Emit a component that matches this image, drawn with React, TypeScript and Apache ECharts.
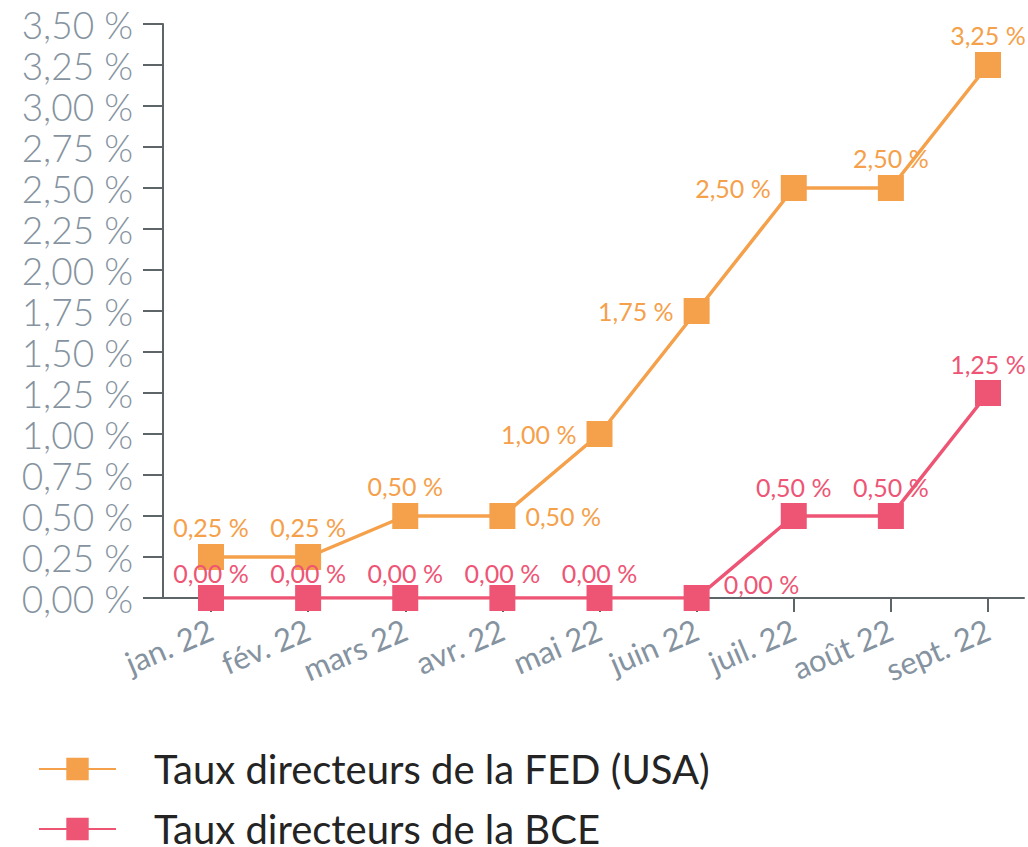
import React, { useEffect, useRef } from "react";
import * as echarts from "echarts";

const categories = ["jan. 22", "fév. 22", "mars 22", "avr. 22", "mai 22", "juin 22", "juil. 22", "août 22", "sept. 22"];
const fedValues = [0.25, 0.25, 0.5, 0.5, 1.0, 1.75, 2.5, 2.5, 3.25];
const bceValues = [0, 0, 0, 0, 0, 0, 0.5, 0.5, 1.25];
const fedLabelPos = ["top", "top", "top", "right", "left", "left", "left", "top", "top"];
const bceLabelPos = ["top", "top", "top", "top", "top", "right", "top", "top", "top"];
const seriesNames = ["Taux directeurs de la FED (USA)", "Taux directeurs de la BCE"];

const ORANGE = "#F5A04A";
const PINK = "#EE5575";
const GRAY = "#8593a0";
const AXIS = "#5d6568";
const FONT = "Lato, 'Noto Sans', sans-serif";

const fmt = (v: number) => v.toFixed(2).replace(".", ",") + " %";

export default function App() {
  const ref = useRef<HTMLDivElement>(null);
  useEffect(() => {
    document.body.style.margin = "0";
    const chart = echarts.init(ref.current!, null, { renderer: "svg" });
    const fedData = fedValues.map((v, i) => ({
      value: v,
      label: {
        position: fedLabelPos[i],
        distance: fedLabelPos[i] === "top" ? 5 : 10,
      },
    }));
    const bceData = bceValues.map((v, i) => ({
      value: v,
      label: {
        position: bceLabelPos[i],
        distance: i < 5 ? 0 : bceLabelPos[i] === "right" ? 14 : 4,
        offset: bceLabelPos[i] === "right" ? [0, -14] : [0, 0],
      },
    }));
    const legendBase = {
      orient: "vertical",
      left: 38,
      padding: 0,
      itemWidth: 77,
      itemHeight: 28,
      textStyle: { fontSize: 40, color: "#242424", fontFamily: FONT, padding: [0, 0, 0, 33] },
    };
    chart.setOption({
      animation: false,
      textStyle: { fontFamily: FONT },
      grid: [
        { left: 211, top: 24, right: 40, height: 574 },
        { left: 163, top: 24, right: 4, height: 574 },
      ],
      xAxis: [
        {
          type: "category",
          gridIndex: 0,
          data: categories,
          boundaryGap: false,
          axisLine: { show: false },
          axisTick: { show: true, length: 14, lineStyle: { color: AXIS, width: 2 } },
          axisLabel: { rotate: 23, margin: 30, fontSize: 31, color: GRAY, fontFamily: FONT, interval: 0 },
          z: 1,
        },
        {
          type: "value",
          gridIndex: 1,
          min: 0,
          max: 1,
          axisLine: { show: true, lineStyle: { color: AXIS, width: 2 } },
          axisTick: { show: false },
          axisLabel: { show: false },
          splitLine: { show: false },
        },
      ],
      yAxis: [
        {
          type: "value",
          gridIndex: 0,
          offset: 48,
          min: 0,
          max: 3.5,
          interval: 0.25,
          axisLine: { show: true, lineStyle: { color: AXIS, width: 2 } },
          axisTick: { show: true, length: 20, lineStyle: { color: AXIS, width: 2 } },
          splitLine: { show: false },
          axisLabel: { formatter: fmt, fontSize: 37, lineHeight: 38, color: GRAY, margin: 30, fontFamily: FONT, fontWeight: 300 },
        },
        {
          type: "value",
          gridIndex: 1,
          min: 0,
          max: 1,
          show: false,
        },
      ],
      legend: [
        { ...legendBase, top: 749, data: [seriesNames[0]] },
        { ...legendBase, top: 809, data: [seriesNames[1]] },
      ],
      series: [
        {
          name: seriesNames[0],
          type: "line",
          xAxisIndex: 0,
          yAxisIndex: 0,
          data: fedData,
          symbol: "rect",
          symbolSize: 26,
          itemStyle: { color: ORANGE },
          lineStyle: { color: ORANGE, width: 3.5 },
          label: { show: true, color: ORANGE, fontSize: 25, fontFamily: FONT, formatter: (p: any) => fmt(p.value) },
          z: 3,
        },
        {
          name: seriesNames[1],
          type: "line",
          xAxisIndex: 0,
          yAxisIndex: 0,
          data: bceData,
          symbol: "rect",
          symbolSize: 26,
          itemStyle: { color: PINK },
          lineStyle: { color: PINK, width: 3.5 },
          label: { show: true, color: PINK, fontSize: 25, fontFamily: FONT, formatter: (p: any) => fmt(p.value) },
          z: 4,
        },
      ],
    });
    return () => chart.dispose();
  }, []);
  return <div ref={ref} style={{ width: 1028, height: 847 }} />;
}
